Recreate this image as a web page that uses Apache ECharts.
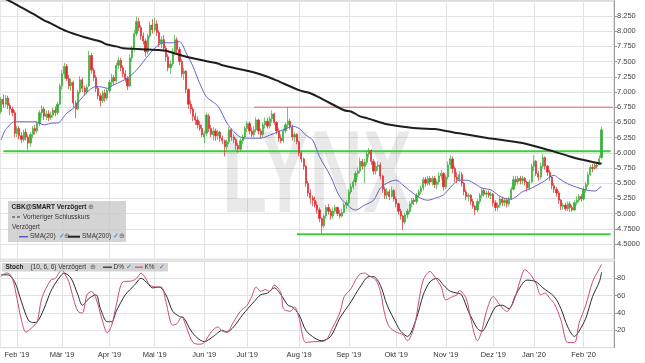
<!DOCTYPE html>
<html><head><meta charset="utf-8">
<script src="https://cdn.jsdelivr.net/npm/echarts@6/dist/echarts.min.js"></script>
<style>html,body{margin:0;padding:0;background:#fff}#c{width:645px;height:363px}</style>
</head><body><div id="c"></div>
<script>
// ---- data ----
const monthLabels = ["Feb '19","Mär '19","Apr '19","Mai '19","Jun '19","Jul '19","Aug '19","Sep '19","Okt '19","Nov '19","Dez '19","Jan '20","Feb '20"];
const monthIdx = [7,27,48,68,90,109,132,154,175,197,218,236,258];
const slotCount = 272;
// [open, close, low, high] per trading day
const candles = [
[6.68,6.88,6.64,6.92],[6.88,6.80,6.74,6.96],[6.80,6.90,6.76,6.95],[6.90,6.78,6.72,6.94],[6.78,6.72,6.62,6.82],
[6.72,6.66,6.60,6.76],[6.66,6.32,6.26,6.70],[6.32,6.40,6.26,6.44],[6.40,6.28,6.22,6.44],[6.28,6.22,6.16,6.34],
[6.22,6.34,6.18,6.38],[6.34,6.26,6.20,6.40],[6.26,6.16,6.05,6.30],[6.16,6.30,6.10,6.34],[6.30,6.40,6.24,6.44],
[6.40,6.36,6.30,6.46],[6.36,6.48,6.32,6.52],[6.48,6.66,6.44,6.70],[6.66,6.72,6.58,6.78],[6.72,6.60,6.54,6.76],
[6.60,6.64,6.54,6.70],[6.64,6.58,6.52,6.70],[6.58,6.62,6.54,6.68],[6.62,6.70,6.58,6.74],[6.70,6.66,6.60,6.76],
[6.66,6.80,6.62,6.84],[6.80,7.10,6.78,7.14],[7.10,7.30,7.04,7.36],[7.30,7.42,7.22,7.48],[7.42,7.22,7.18,7.46],
[7.22,7.10,7.04,7.28],[7.10,7.16,7.02,7.22],[7.16,6.82,6.74,7.18],[6.82,6.72,6.57,6.86],[6.72,7.00,6.70,7.04],
[7.00,7.20,6.96,7.26],[7.20,7.06,7.00,7.24],[7.06,7.00,6.94,7.10],[7.00,7.08,6.96,7.12],[7.10,7.60,7.08,7.68],
[7.60,7.36,7.30,7.64],[7.36,7.24,7.18,7.40],[7.24,7.06,7.00,7.28],[7.06,6.94,6.88,7.10],[6.94,6.86,6.76,6.98],
[6.86,6.98,6.82,7.02],[6.98,6.90,6.84,7.04],[6.90,7.02,6.86,7.06],[7.02,7.16,6.98,7.20],[7.16,7.24,7.10,7.30],
[7.24,7.18,7.12,7.28],[7.18,7.44,7.16,7.48],[7.44,7.52,7.38,7.58],[7.52,7.40,7.34,7.56],[7.40,7.30,7.24,7.44],
[7.30,7.22,7.16,7.36],[7.22,7.10,7.03,7.26],[7.10,7.56,7.08,7.62],[7.56,7.70,7.50,7.76],[7.70,7.96,7.66,8.02],
[7.96,8.16,7.92,8.24],[8.16,8.06,8.00,8.22],[8.06,7.92,7.86,8.10],[7.92,7.84,7.78,7.98],[7.84,7.66,7.58,7.88],
[7.66,7.92,7.62,7.96],[7.92,8.10,7.88,8.16],[8.10,8.02,7.96,8.20],[8.02,8.12,7.98,8.22],[8.12,7.98,7.92,8.18],
[7.98,7.80,7.74,8.02],[7.80,7.86,7.72,7.92],[7.86,7.72,7.66,7.94],[7.72,7.58,7.50,7.76],[7.58,7.40,7.34,7.62],
[7.40,7.46,7.30,7.52],[7.46,7.66,7.42,7.72],[7.66,7.86,7.60,7.94],[7.86,7.70,7.62,7.90],[7.70,7.50,7.44,7.74],
[7.50,7.30,7.24,7.54],[7.30,7.34,7.20,7.40],[7.34,7.04,6.98,7.36],[7.04,6.80,6.72,7.06],[6.80,6.72,6.64,6.86],
[6.72,6.60,6.52,6.76],[6.60,6.54,6.46,6.66],[6.54,6.46,6.40,6.60],[6.46,6.40,6.36,6.52],[6.40,6.30,6.26,6.46],
[6.26,6.32,6.16,6.36],[6.32,6.62,6.28,6.66],[6.60,6.40,6.34,6.64],[6.40,6.30,6.26,6.46],[6.30,6.36,6.20,6.42],
[6.36,6.28,6.20,6.40],[6.28,6.34,6.22,6.38],[6.34,6.24,6.18,6.36],[6.24,6.20,6.14,6.28],[6.20,6.10,5.94,6.22],
[6.10,6.18,6.04,6.22],[6.18,6.38,6.14,6.42],[6.38,6.26,6.20,6.40],[6.26,6.22,6.16,6.30],[6.22,6.12,6.04,6.24],
[6.12,6.06,6.00,6.16],[6.06,6.20,6.02,6.24],[6.20,6.26,6.14,6.30],[6.26,6.40,6.22,6.44],[6.40,6.48,6.34,6.52],
[6.48,6.36,6.30,6.52],[6.36,6.30,6.26,6.42],[6.30,6.38,6.26,6.44],[6.38,6.54,6.34,6.58],[6.54,6.36,6.30,6.56],
[6.36,6.30,6.24,6.40],[6.30,6.46,6.26,6.50],[6.46,6.52,6.40,6.58],[6.52,6.44,6.40,6.58],[6.44,6.56,6.40,6.60],
[6.56,6.64,6.50,6.70],[6.64,6.50,6.46,6.66],[6.50,6.36,6.30,6.52],[6.36,6.24,6.18,6.40],[6.24,6.20,6.16,6.30],
[6.20,6.36,6.16,6.40],[6.36,6.46,6.32,6.50],[6.46,6.52,6.40,6.75],[6.52,6.42,6.38,6.56],[6.42,6.26,6.20,6.46],
[6.26,6.30,6.18,6.34],[6.30,6.18,6.14,6.32],[6.18,6.00,5.94,6.20],[6.00,5.90,5.84,6.02],[5.90,5.78,5.72,5.92],
[5.78,5.50,5.44,5.80],[5.50,5.34,5.28,5.54],[5.34,5.26,5.16,5.40],[5.26,5.22,5.12,5.30],[5.22,5.14,5.10,5.28],
[5.14,5.06,5.00,5.20],[5.06,4.92,4.86,5.10],[4.92,4.80,4.67,4.94],[4.80,4.96,4.76,5.00],[4.96,5.10,4.92,5.14],
[5.10,5.04,4.98,5.16],[5.04,4.96,4.90,5.08],[4.96,5.04,4.92,5.10],[5.04,5.10,5.00,5.14],[5.10,5.00,4.96,5.12],
[5.00,4.96,4.92,5.06],[4.96,5.02,4.94,5.08],[5.02,5.14,5.00,5.18],[5.14,5.18,5.08,5.22],[5.18,5.36,5.14,5.40],
[5.36,5.44,5.32,5.50],[5.44,5.52,5.40,5.56],[5.52,5.66,5.46,5.70],[5.66,5.70,5.60,5.76],[5.70,5.86,5.66,5.92],
[5.86,5.78,5.72,5.90],[5.78,5.84,5.50,5.90],[5.84,5.98,5.80,6.04],[5.98,6.04,5.92,6.08],[6.04,5.86,5.80,6.06],
[5.86,5.70,5.64,5.90],[5.70,5.78,5.64,5.84],[5.78,5.80,5.70,5.86],[5.80,5.62,5.56,5.84],[5.62,5.40,5.34,5.64],
[5.40,5.30,5.24,5.44],[5.30,5.36,5.24,5.42],[5.36,5.28,5.22,5.40],[5.28,5.38,5.26,5.44],[5.38,5.24,5.20,5.40],
[5.24,5.16,5.10,5.28],[5.16,5.04,4.98,5.18],[5.04,4.96,4.90,5.08],[4.96,4.86,4.73,4.98],[4.86,4.98,4.82,5.02],
[4.98,5.04,4.92,5.08],[5.04,5.16,5.00,5.20],[5.16,5.22,5.10,5.26],[5.22,5.20,5.14,5.26],[5.20,5.30,5.16,5.34],
[5.30,5.36,5.26,5.40],[5.36,5.42,5.32,5.46],[5.42,5.56,5.38,5.60],[5.56,5.50,5.44,5.60],[5.50,5.58,5.46,5.62],
[5.58,5.52,5.46,5.62],[5.52,5.58,5.46,5.62],[5.58,5.48,5.42,5.62],[5.48,5.52,5.40,5.56],[5.52,5.62,5.48,5.68],
[5.62,5.66,5.56,5.72],[5.66,5.44,5.38,5.68],[5.44,5.60,5.40,5.64],[5.60,5.80,5.56,5.86],[5.80,5.90,5.74,5.96],
[5.90,5.74,5.66,5.94],[5.74,5.60,5.52,5.78],[5.60,5.56,5.50,5.68],[5.56,5.64,5.52,5.70],[5.64,5.50,5.44,5.68],
[5.50,5.36,5.30,5.52],[5.36,5.28,5.22,5.40],[5.28,5.30,5.20,5.34],[5.30,5.20,5.14,5.32],[5.20,5.12,5.08,5.24],
[5.12,5.06,4.98,5.14],[5.06,5.20,5.02,5.24],[5.20,5.30,5.16,5.34],[5.30,5.38,5.26,5.42],[5.38,5.32,5.28,5.42],
[5.32,5.34,5.26,5.38],[5.34,5.30,5.26,5.38],[5.30,5.32,5.24,5.36],[5.32,5.18,5.12,5.34],[5.18,5.10,5.04,5.22],
[5.10,5.14,5.04,5.18],[5.14,5.24,5.10,5.28],[5.24,5.18,5.12,5.28],[5.18,5.22,5.12,5.26],[5.22,5.16,5.10,5.26],
[5.16,5.24,5.12,5.28],[5.24,5.40,5.22,5.44],[5.40,5.56,5.38,5.62],[5.56,5.52,5.46,5.62],[5.52,5.58,5.48,5.62],
[5.58,5.54,5.48,5.62],[5.54,5.58,5.48,5.62],[5.58,5.52,5.46,5.60],[5.52,5.42,5.36,5.54],[5.42,5.52,5.38,5.56],
[5.52,5.78,5.50,5.82],[5.78,5.86,5.70,5.96],[5.86,5.66,5.62,5.88],[5.66,5.60,5.54,5.70],[5.60,5.78,5.56,5.84],
[5.78,5.92,5.74,5.98],[5.92,5.78,5.72,5.94],[5.78,5.68,5.62,5.80],[5.68,5.60,5.54,5.72],[5.60,5.46,5.40,5.62],
[5.46,5.40,5.34,5.50],[5.40,5.34,5.28,5.44],[5.34,5.22,5.16,5.38],[5.22,5.12,5.06,5.24],[5.12,5.14,5.06,5.18],
[5.14,5.08,5.04,5.18],[5.08,5.16,5.04,5.20],[5.16,5.10,5.03,5.20],[5.10,5.06,5.03,5.14],[5.06,5.18,5.04,5.22],
[5.18,5.22,5.14,5.28],[5.22,5.28,5.18,5.32],[5.28,5.24,5.20,5.32],[5.24,5.40,5.22,5.44],[5.40,5.48,5.34,5.52],
[5.48,5.64,5.44,5.68],[5.64,5.76,5.62,5.80],[5.76,5.74,5.68,5.82],[5.74,5.80,5.72,5.84],[5.80,5.78,5.74,5.84],
[5.80,5.90,5.80,5.96],[5.92,6.38,5.90,6.43]
];
// [day index, value]
const sma20 = [[0,6.21],[2,6.38],[6,6.51],[8,6.51],[15,6.51],[19,6.46],[23,6.49],[25,6.49],[29,6.65],[32,6.73],[35,6.87],[39,7.03],[42,7.09],[45,7.08],[47,7.06],[50,7.12],[53,7.17],[56,7.23],[60,7.36],[63,7.50],[66,7.64],[69,7.75],[71,7.80],[73,7.81],[76,7.81],[79,7.83],[82,7.64],[85,7.42],[88,7.14],[91,6.92],[96,6.77],[100,6.49],[103,6.35],[106,6.26],[110,6.24],[115,6.24],[119,6.29],[123,6.35],[127,6.41],[129,6.44],[132,6.40],[135,6.29],[138,6.21],[141,5.94],[146,5.61],[150,5.28],[155,5.09],[157,5.06],[161,5.14],[165,5.22],[168,5.42],[172,5.52],[175,5.55],[178,5.47],[183,5.32],[186,5.25],[189,5.22],[192,5.25],[196,5.31],[200,5.47],[203,5.55],[206,5.55],[209,5.51],[213,5.42],[217,5.39],[220,5.31],[223,5.25],[226,5.24],[231,5.36],[235,5.42],[240,5.52],[245,5.63],[247,5.58],[251,5.49],[256,5.42],[259,5.39],[263,5.37],[265,5.42],[266,5.45]];
const sma200 = [[0,8.56],[3,8.51],[11,8.35],[14,8.29],[19,8.18],[22,8.13],[29,8.00],[37,7.90],[44,7.83],[47,7.78],[51,7.75],[54,7.72],[59,7.71],[65,7.70],[70,7.69],[73,7.68],[82,7.58],[88,7.53],[96,7.47],[98,7.44],[110,7.34],[118,7.25],[122,7.19],[132,7.03],[137,6.98],[143,6.87],[152,6.70],[155,6.68],[159,6.60],[162,6.57],[169,6.49],[171,6.47],[180,6.42],[186,6.40],[192,6.39],[201,6.33],[203,6.32],[216,6.24],[218,6.23],[231,6.16],[242,6.05],[245,6.02],[252,5.94],[257,5.89],[262,5.85],[266,5.82]];
const stochK = [[0,82],[2,86],[3,86],[5,80],[7,57],[9,32],[11,18],[14,24],[16,30],[18,57],[22,78],[24,80],[27,90],[28,86],[30,76],[32,57],[34,42],[36,40],[38,61],[40,65],[42,57],[45,30],[47,17],[49,26],[51,49],[54,76],[58,77],[60,80],[62,86],[64,80],[66,72],[69,70],[71,70],[73,53],[76,26],[78,28],[80,36],[82,24],[85,6],[88,4],[90,6],[93,18],[96,24],[98,19],[100,18],[103,30],[106,42],[109,49],[111,59],[113,70],[115,65],[117,67],[119,65],[121,72],[124,63],[125,45],[128,42],[130,47],[132,34],[135,6],[139,7],[141,7],[144,9],[147,24],[150,40],[152,59],[155,68],[157,78],[159,85],[161,86],[163,83],[166,78],[168,65],[170,38],[172,24],[175,18],[178,15],[180,8],[183,24],[185,53],[187,78],[190,88],[192,82],[195,70],[197,55],[200,59],[202,61],[203,66],[206,57],[208,34],[211,8],[213,20],[215,42],[218,59],[221,49],[224,42],[227,53],[230,78],[232,90],[234,86],[237,74],[239,61],[241,63],[243,57],[245,51],[248,32],[251,6],[254,6],[256,28],[259,49],[262,76],[265,91],[266,96]];
const stochD = [[0,84],[3,84],[6,76],[9,53],[12,32],[14,29],[16,30],[19,45],[22,65],[25,78],[28,86],[31,80],[34,61],[36,49],[39,57],[42,61],[44,45],[47,30],[49,30],[51,42],[55,61],[59,72],[62,80],[65,74],[67,69],[70,70],[73,61],[76,42],[79,36],[81,34],[84,20],[87,11],[90,7],[94,13],[98,20],[100,18],[103,24],[107,38],[112,53],[115,61],[118,63],[121,69],[124,61],[127,49],[129,47],[132,38],[135,20],[139,11],[142,8],[146,13],[150,34],[155,53],[159,70],[163,82],[165,82],[168,72],[171,49],[175,28],[177,19],[180,13],[184,34],[187,61],[190,76],[193,80],[196,72],[199,65],[202,63],[204,61],[207,42],[211,22],[213,19],[216,32],[219,47],[222,49],[225,45],[228,61],[233,78],[237,76],[240,69],[245,59],[248,45],[251,24],[254,13],[256,19],[259,34],[262,59],[265,76],[266,87]];
const upperLevel = [[1,6.025],[270,6.025]];
const lowerLevel = [[131,4.66],[270,4.66]];
const resistLevel = [[112,6.75],[271,6.75]];

// ---- chart ----
const cats = [];
for (let i = 0; i < slotCount; i++) { const k = monthIdx.indexOf(i); cats.push(k >= 0 ? monthLabels[k] : ''); }
const isMonth = (i) => monthIdx.indexOf(i) >= 0;
const FONT = '"Liberation Sans", Arial, sans-serif';
const GRID_C = '#e2e2e2';
const fmtPrice = (v) => (v >= 4.99 ? v.toFixed(3) : v.toFixed(4));

const chart = echarts.init(document.getElementById('c'), null, {renderer: 'canvas'});
const xCommon = {
  type: 'category', data: cats, boundaryGap: true,
  axisLine: {show: false}, axisTick: {show: false},
  splitLine: {show: true, interval: (i) => isMonth(i), alignWithLabel: true, lineStyle: {color: GRID_C, width: 1}}
};
const txt = (text, x, y, opt) => Object.assign({
  type: 'text', z: 101, silent: true,
  style: Object.assign({text, x, y, font: '6.5px ' + FONT, fill: '#333', textAlign: 'left', verticalAlign: 'middle', textVerticalAlign: 'middle'}, opt || {})
});
const ln = (x1, y1, x2, y2, stroke, w, dash) => ({
  type: 'line', z: 101, silent: true, shape: {x1, y1, x2, y2},
  style: {stroke, lineWidth: w, lineDash: dash || null}
});

chart.setOption({
  animation: false,
  backgroundColor: '#fff',
  grid: [
    {left: 0, top: 0.8, width: 614, height: 258.4, show: true, borderColor: '#cfcfcf', borderWidth: 1},
    {left: 0, top: 261, width: 614, height: 86.7, show: true, borderColor: '#cfcfcf', borderWidth: 1}
  ],
  xAxis: [
    Object.assign({}, xCommon, {gridIndex: 0, axisLabel: {show: false}}),
    Object.assign({}, xCommon, {gridIndex: 1, axisLabel: {show: true, interval: (i) => isMonth(i), color: '#333', fontSize: 7.5, fontFamily: FONT, margin: 3}})
  ],
  yAxis: [
    {type: 'value', gridIndex: 0, position: 'right', min: 4.25, max: 8.5, interval: 0.25,
     axisLine: {show: true, lineStyle: {color: '#9a9a9a'}},
     axisTick: {show: true, length: 3, lineStyle: {color: '#9a9a9a'}},
     axisLabel: {showMinLabel: false, showMaxLabel: false, formatter: fmtPrice, color: '#444', fontSize: 7.5, fontFamily: FONT, margin: 3},
     splitLine: {show: true, lineStyle: {color: GRID_C}}},
    {type: 'value', gridIndex: 1, position: 'right', min: 0, max: 100, interval: 20,
     axisLine: {show: true, lineStyle: {color: '#9a9a9a'}},
     axisTick: {show: true, length: 3, lineStyle: {color: '#9a9a9a'}},
     axisLabel: {showMinLabel: false, showMaxLabel: false, color: '#444', fontSize: 7.5, fontFamily: FONT, margin: 3},
     splitLine: {show: true, lineStyle: {color: GRID_C}}}
  ],
  series: [
    {type: 'line', name: 'upper', xAxisIndex: 0, yAxisIndex: 0, data: upperLevel, symbol: 'none', z: 3,
     lineStyle: {color: '#3fcc3f', width: 2}},
    {type: 'line', name: 'lower', xAxisIndex: 0, yAxisIndex: 0, data: lowerLevel, symbol: 'none', z: 3,
     lineStyle: {color: '#3fcc3f', width: 2}},
    {type: 'line', name: 'resist', xAxisIndex: 0, yAxisIndex: 0, data: resistLevel, symbol: 'none', z: 3,
     lineStyle: {color: '#f06060', width: 1}},
    {type: 'candlestick', name: 'CBK', xAxisIndex: 0, yAxisIndex: 0, data: candles, barWidth: 1.7, z: 4,
     itemStyle: {color: '#34b034', color0: '#e02a2a', borderColor: '#34b034', borderColor0: '#e02a2a', borderWidth: 0.7}},
    {type: 'line', name: 'SMA(20)', xAxisIndex: 0, yAxisIndex: 0, data: sma20, symbol: 'none', smooth: 0.3, z: 5,
     lineStyle: {color: '#6464c8', width: 1}},
    {type: 'line', name: 'SMA(200)', xAxisIndex: 0, yAxisIndex: 0, data: sma200, symbol: 'none', smooth: 0.3, z: 5,
     lineStyle: {color: '#1e1e1e', width: 2}},
    {type: 'line', name: 'D%', xAxisIndex: 1, yAxisIndex: 1, data: stochD, symbol: 'none', smooth: 0.3, z: 5,
     lineStyle: {color: '#2a2a2a', width: 1}},
    {type: 'line', name: 'K%', xAxisIndex: 1, yAxisIndex: 1, data: stochK, symbol: 'none', smooth: 0.3, z: 5,
     lineStyle: {color: '#cc4d6e', width: 1}}
  ],
  graphic: [
    {type: 'text', z: 1, silent: true, x: 222, y: 180, scaleX: 0.63,
     style: {text: 'LYNX', font: 'bold 117px ' + FONT, fill: 'rgba(0,0,0,0.085)', textAlign: 'left', verticalAlign: 'middle', textVerticalAlign: 'middle'}},
    {type: 'rect', z: 100, silent: true, shape: {x: 8, y: 201, width: 118, height: 41}, style: {fill: 'rgba(198,198,198,0.75)'}},
    txt('CBK@SMART Verzögert', 11.5, 207.7, {font: 'bold 6.5px ' + FONT, fill: '#222'}),
    txt('⊕', 88, 207.7, {fill: '#666'}),
    ln(12, 217, 15, 217, '#333', 1), ln(17, 217, 20, 217, '#333', 1),
    txt('Vorheriger Schlusskurs', 23, 217),
    txt('Verzögert', 12, 227.3),
    ln(19, 236.7, 28, 236.7, '#5a5ac8', 1.5),
    txt('SMA(20)', 30, 236.7),
    txt('✓', 59, 236.7, {fill: '#3a6fcc'}),
    txt('⊕', 64, 236.7, {fill: '#666'}),
    ln(68, 236.7, 80, 236.7, '#222', 2),
    txt('SMA(200)', 82, 236.7),
    txt('✓', 113, 236.7, {fill: '#3a6fcc'}),
    txt('⊕', 119, 236.7, {fill: '#666'}),
    {type: 'rect', z: 100, silent: true, shape: {x: 2, y: 263, width: 166, height: 8.5}, style: {fill: 'rgba(198,198,198,0.75)'}},
    txt('Stoch', 5.5, 267.2, {font: 'bold 6.5px ' + FONT, fill: '#222'}),
    txt('(10, 6, 6) Verzögert', 30.5, 267.2),
    txt('⊕', 90, 267.2, {fill: '#666'}),
    ln(103, 267.2, 112, 267.2, '#222', 1.2),
    txt('D%', 113.5, 267.2),
    txt('✓', 126, 267.2, {fill: '#3a6fcc'}),
    ln(135, 267.2, 143, 267.2, '#cc4d6e', 1.2),
    txt('K%', 144.5, 267.2),
    txt('✓', 159, 267.2, {fill: '#3a6fcc'})
  ]
});
</script>
</body></html>
